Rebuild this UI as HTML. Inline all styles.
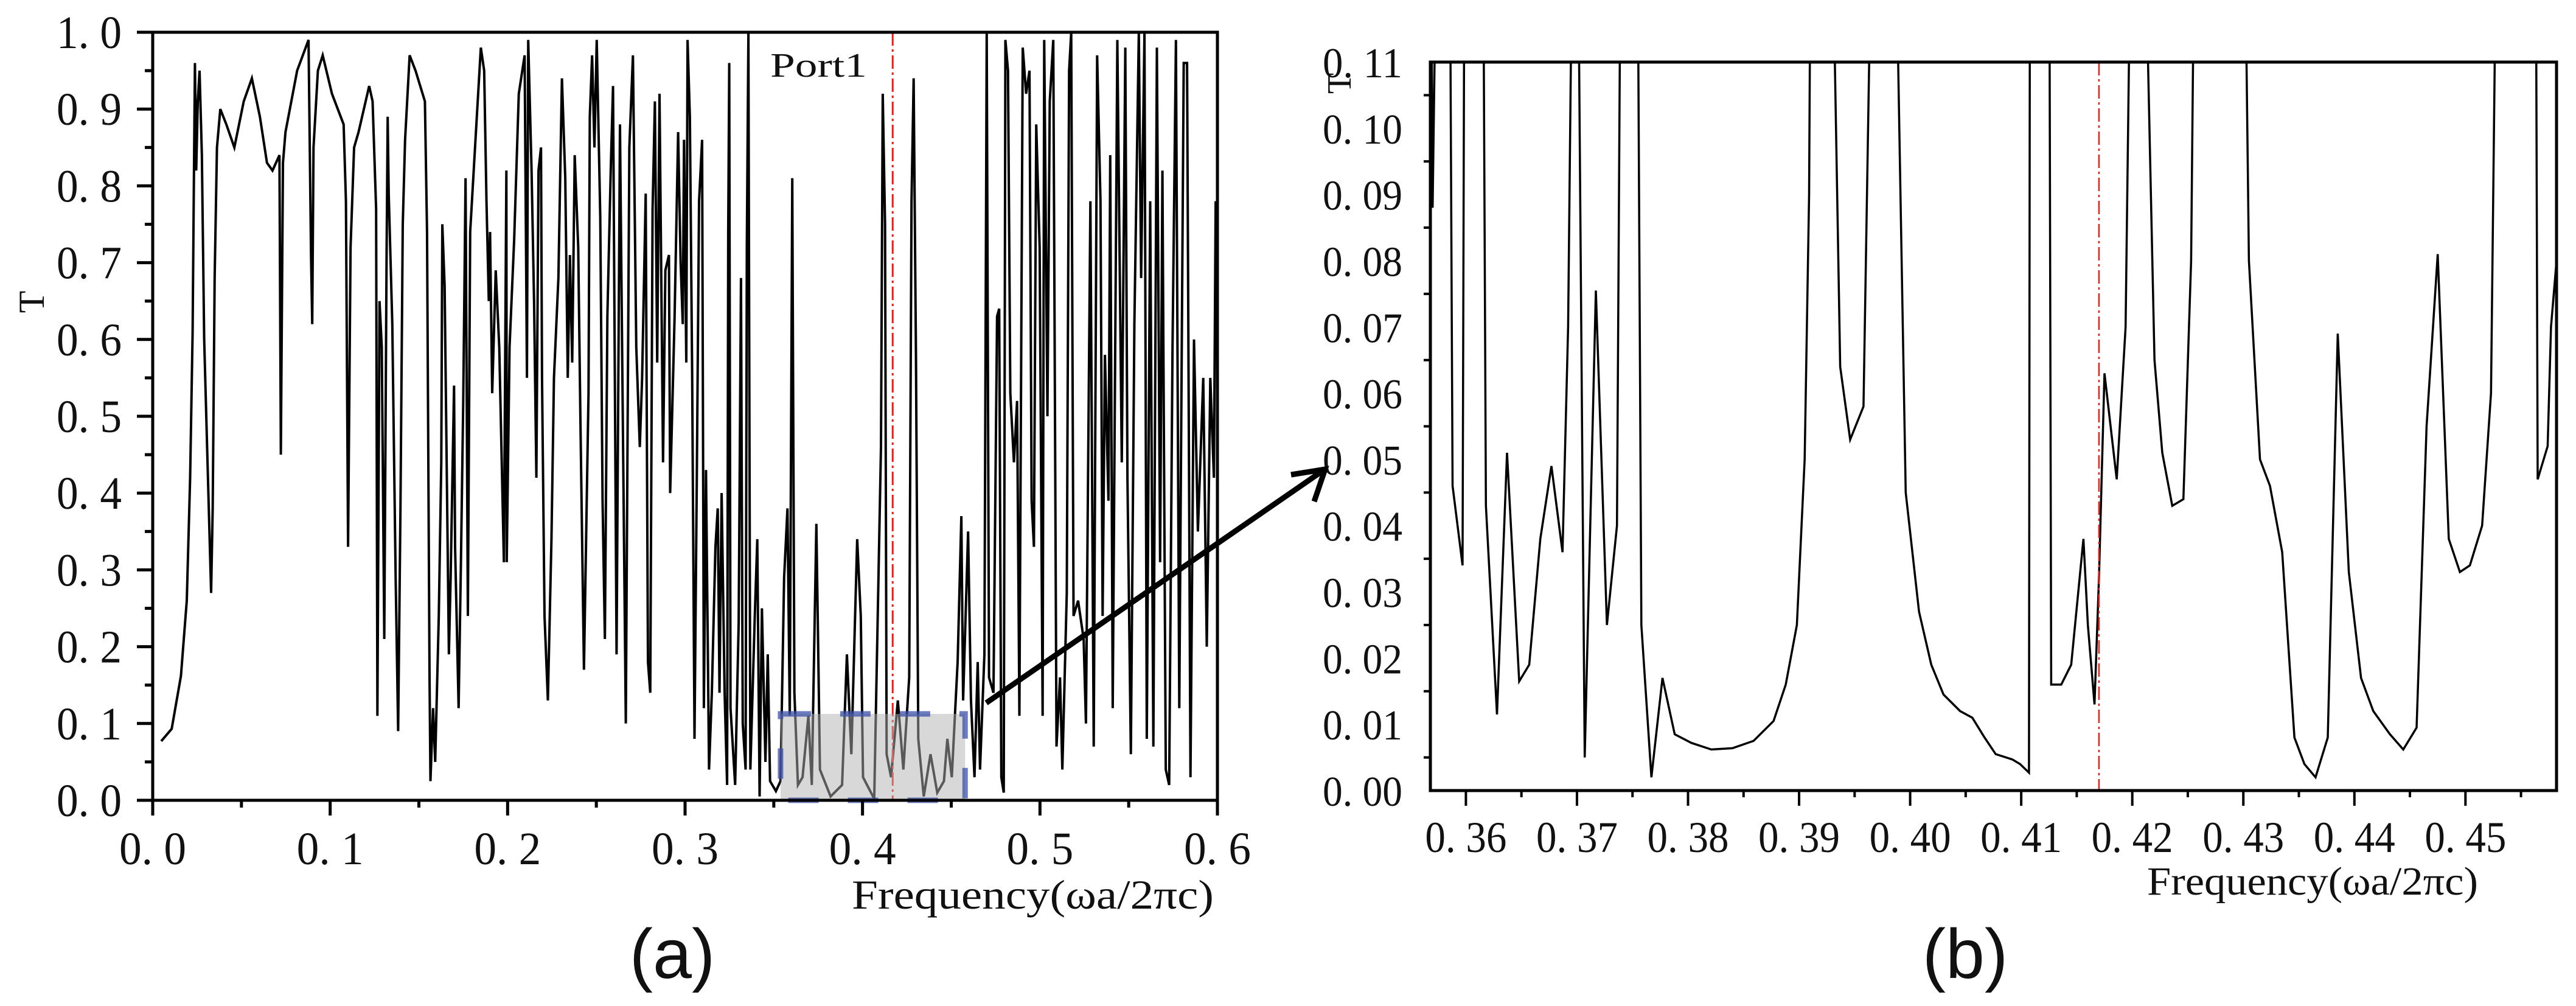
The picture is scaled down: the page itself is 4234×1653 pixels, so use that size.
<!DOCTYPE html>
<html><head><meta charset="utf-8"><style>
html,body{margin:0;padding:0;background:#fff;}
svg{display:block;}
text{font-family:"Liberation Serif","Noto Serif CJK SC",serif;fill:#111;}
</style></head><body>
<svg id="fig" width="4234" height="1653" viewBox="0 0 4234 1653" xmlns="http://www.w3.org/2000/svg">
<defs>
<clipPath id="clipA"><rect x="251" y="53" width="1750" height="1262"/></clipPath>
<clipPath id="clipB"><rect x="2351" y="102" width="1851" height="1197"/></clipPath>
</defs>
<g id="panelA"></g>
<g id="panelB"></g>
<g id="arrow">
<line x1="1621" y1="1155" x2="2172" y2="775" stroke="#000" stroke-width="9"/>
<polyline points="2122,780 2178,771 2160,824" fill="none" stroke="#000" stroke-width="9"/>
</g>
<text x="1105" y="1607" text-anchor="middle" style="font-family:'Liberation Sans',sans-serif;font-size:115px">(a)</text>
<text x="3230" y="1607" text-anchor="middle" style="font-family:'Liberation Sans',sans-serif;font-size:115px">(b)</text>
</svg>
<script>
// ---------- Panel (a) data ----------
const freqA = [0.0048,0.0107,0.0159,0.0192,0.0211,0.0225,0.0231,0.0238,0.0245,0.0254,0.0264,0.0277,0.029,0.0309,0.0329,0.0338,0.0349,0.0362,0.0381,0.0415,0.046,0.0513,0.0559,0.0604,0.0644,0.0675,0.0714,0.0722,0.0734,0.0748,0.0814,0.0878,0.0892,0.0899,0.0906,0.0931,0.0958,0.101,0.1076,0.1089,0.1101,0.1115,0.1135,0.116,0.122,0.1239,0.1259,0.1266,0.1278,0.1291,0.1305,0.1318,0.1324,0.133,0.135,0.1369,0.1383,0.1396,0.1409,0.1422,0.1448,0.1481,0.1534,0.1546,0.156,0.1565,0.158,0.1592,0.1612,0.1626,0.1632,0.1645,0.1658,0.1669,0.1679,0.1698,0.1704,0.1724,0.1737,0.175,0.1763,0.1776,0.1789,0.1809,0.1849,0.1868,0.1881,0.1894,0.1901,0.1913,0.1933,0.1953,0.1966,0.1979,0.1993,0.1995,0.2011,0.2037,0.2063,0.2096,0.2109,0.2116,0.2135,0.2149,0.2162,0.2174,0.2188,0.2194,0.2208,0.2227,0.2247,0.2261,0.2286,0.2306,0.2325,0.2339,0.2351,0.2364,0.2378,0.2398,0.241,0.243,0.2456,0.2463,0.2476,0.2489,0.2502,0.2522,0.2535,0.2548,0.2562,0.2581,0.2594,0.2614,0.2633,0.2647,0.2666,0.2686,0.2706,0.2725,0.2745,0.2758,0.2778,0.2791,0.2804,0.2817,0.283,0.2843,0.2856,0.2876,0.2889,0.2909,0.2916,0.2941,0.2961,0.2975,0.2987,0.2994,0.3007,0.3014,0.3027,0.304,0.3053,0.3066,0.3079,0.3096,0.3106,0.3118,0.3135,0.3151,0.3171,0.3184,0.3194,0.3206,0.3223,0.3237,0.3243,0.3249,0.3256,0.3282,0.3302,0.3315,0.3325,0.3341,0.3348,0.3357,0.3368,0.3393,0.3407,0.342,0.3433,0.3453,0.3466,0.3479,0.3512,0.3538,0.3558,0.3577,0.359,0.3604,0.3616,0.3636,0.3662,0.3695,0.3714,0.374,0.376,0.382,0.3885,0.3912,0.3937,0.397,0.399,0.4003,0.4066,0.4104,0.4114,0.4127,0.4136,0.4161,0.4199,0.423,0.4263,0.4276,0.4288,0.4301,0.4314,0.4345,0.4383,0.4421,0.4459,0.4478,0.4503,0.4536,0.4557,0.4567,0.4595,0.4611,0.4631,0.4649,0.4662,0.4687,0.47,0.4713,0.4738,0.4758,0.477,0.4782,0.4796,0.4805,0.482,0.4833,0.4853,0.4871,0.4884,0.4903,0.4922,0.4941,0.4953,0.4966,0.4979,0.4998,0.5015,0.5024,0.5042,0.5055,0.5075,0.5093,0.5113,0.5126,0.5151,0.5164,0.5176,0.5189,0.5215,0.5246,0.5259,0.5284,0.5303,0.5322,0.5341,0.5353,0.5366,0.5386,0.5396,0.541,0.5436,0.5461,0.5481,0.5493,0.5512,0.5532,0.5557,0.557,0.5589,0.5602,0.5621,0.5639,0.5659,0.5677,0.569,0.5709,0.5728,0.5747,0.5766,0.5785,0.581,0.5829,0.5848,0.5868,0.589,0.592,0.594,0.596,0.598,0.599,0.6];
const transA = [0.077,0.093,0.162,0.26,0.42,0.61,0.78,0.96,0.82,0.91,0.95,0.84,0.60,0.44,0.27,0.38,0.68,0.85,0.90,0.88,0.85,0.91,0.94,0.89,0.83,0.82,0.84,0.45,0.83,0.87,0.95,0.99,0.71,0.62,0.85,0.95,0.97,0.92,0.88,0.78,0.33,0.72,0.85,0.87,0.93,0.91,0.77,0.11,0.65,0.59,0.21,0.71,0.89,0.79,0.62,0.29,0.09,0.38,0.75,0.86,0.97,0.95,0.91,0.74,0.16,0.025,0.12,0.05,0.24,0.44,0.75,0.67,0.41,0.19,0.29,0.54,0.33,0.12,0.31,0.52,0.81,0.24,0.74,0.82,0.98,0.95,0.78,0.65,0.74,0.53,0.69,0.59,0.45,0.31,0.82,0.31,0.59,0.73,0.92,0.97,0.55,0.99,0.82,0.65,0.42,0.82,0.85,0.55,0.24,0.13,0.34,0.55,0.68,0.94,0.81,0.55,0.71,0.57,0.84,0.72,0.50,0.17,0.53,0.89,0.97,0.85,0.99,0.76,0.39,0.21,0.63,0.82,0.93,0.19,0.88,0.55,0.10,0.85,0.97,0.59,0.46,0.55,0.79,0.18,0.14,0.77,0.91,0.57,0.92,0.44,0.69,0.71,0.40,0.63,0.87,0.70,0.62,0.86,0.57,0.99,0.89,0.55,0.08,0.42,0.78,0.86,0.12,0.43,0.04,0.14,0.33,0.38,0.14,0.40,0.14,0.02,0.74,0.96,0.12,0.02,0.23,0.68,0.10,0.04,0.72,1.0,0.04,0.24,0.34,0.005,0.25,0.05,0.19,0.025,0.012,0.025,0.29,0.38,0.11,0.81,0.14,0.02,0.03,0.11,0.02,0.36,0.04,0.005,0.02,0.19,0.06,0.34,0.24,0.03,0.002,0.46,0.92,0.75,0.06,0.03,0.13,0.04,0.16,0.78,0.94,0.58,0.08,0.005,0.06,0.01,0.025,0.08,0.03,0.18,0.37,0.13,0.35,0.13,0.03,0.18,0.04,0.19,1.0,0.16,0.14,0.63,0.64,0.03,0.01,0.99,0.95,0.53,0.44,0.52,0.11,0.98,0.92,0.95,0.39,0.33,0.88,0.72,0.11,0.99,0.50,0.91,0.99,0.07,0.16,0.04,0.27,0.95,1.0,0.24,0.26,0.21,0.10,0.78,0.07,0.97,0.78,0.24,0.58,0.39,0.84,0.12,0.99,0.44,0.98,0.42,0.06,0.62,1.0,0.68,1.0,0.08,0.78,0.07,0.98,0.31,0.82,0.04,0.02,0.59,0.99,0.12,0.96,0.96,0.03,0.60,0.35,0.55,0.20,0.55,0.42,0.78,0.6];
const xTicksA = ["0. 0","0. 1","0. 2","0. 3","0. 4","0. 5","0. 6"];
const yTicksA = ["0. 0","0. 1","0. 2","0. 3","0. 4","0. 5","0. 6","0. 7","0. 8","0. 9","1. 0"];
const portFreq = [0.417];
const zoomBox = [0.3538, 0.4578, 0.0, 0.1125];

// ---------- Panel (b) data ----------
const freqB = [0.3568,0.3570,0.3575,0.3585,0.3588,0.3597,0.3599,0.3615,0.3618,0.3628,0.3637,0.3648,0.3657,0.3667,0.3677,0.3687,0.3692,0.3697,0.37,0.3707,0.3717,0.3727,0.3736,0.374,0.3754,0.3758,0.3767,0.3777,0.3788,0.3803,0.3821,0.384,0.3859,0.3877,0.3888,0.3898,0.3905,0.3909,0.3911,0.3928,0.3937,0.3946,0.3958,0.3967,0.3985,0.3996,0.4008,0.4019,0.403,0.4045,0.4056,0.4067,0.4077,0.4092,0.4099,0.4107,0.4108,0.4125,0.4127,0.4136,0.4145,0.4156,0.416,0.4166,0.417,0.4175,0.4186,0.4194,0.42,0.4209,0.422,0.4227,0.4236,0.4246,0.4253,0.4257,0.43,0.4305,0.4315,0.4324,0.4335,0.4346,0.4355,0.4365,0.4376,0.4385,0.4395,0.4406,0.4417,0.4432,0.4444,0.4456,0.4465,0.4475,0.4485,0.4495,0.4504,0.4515,0.4523,0.4529,0.4563,0.4565,0.4574,0.4577,0.4582];
const transB = [0.15,0.088,0.15,0.15,0.046,0.034,0.15,0.15,0.043,0.0115,0.051,0.0165,0.019,0.038,0.049,0.036,0.07,0.15,0.15,0.005,0.0755,0.025,0.04,0.15,0.15,0.025,0.002,0.017,0.0085,0.0072,0.0062,0.0064,0.0075,0.0105,0.016,0.025,0.05,0.09,0.15,0.15,0.064,0.053,0.058,0.15,0.15,0.045,0.027,0.019,0.0145,0.012,0.011,0.008,0.0055,0.0047,0.004,0.0027,0.15,0.15,0.016,0.016,0.019,0.038,0.025,0.013,0.032,0.063,0.047,0.07,0.15,0.15,0.065,0.051,0.043,0.044,0.08,0.15,0.15,0.08,0.05,0.046,0.036,0.008,0.004,0.002,0.008,0.069,0.033,0.017,0.012,0.0085,0.0062,0.0095,0.055,0.081,0.038,0.033,0.034,0.04,0.06,0.15,0.15,0.047,0.052,0.07,0.08];
const xTicksB = ["0. 36","0. 37","0. 38","0. 39","0. 40","0. 41","0. 42","0. 43","0. 44","0. 45"];
const yTicksB = ["0. 00","0. 01","0. 02","0. 03","0. 04","0. 05","0. 06","0. 07","0. 08","0. 09","0. 10","0. 11"];

const NS = "http://www.w3.org/2000/svg";
function mk(parent, tag, attrs, txt) {
  const e = document.createElementNS(NS, tag);
  for (const k in attrs) e.setAttribute(k, attrs[k]);
  if (txt !== undefined) e.textContent = txt;
  parent.appendChild(e);
  return e;
}

const A = {x0:251, x1:2001, y0:1315, y1:53, fmin:0, fmax:0.6, tmin:0, tmax:1.0};
const B = {x0:2351, x1:4202, y0:1299, y1:102, fmin:0.3568, fmax:0.4582, tmin:0, tmax:0.11};
function sx(ax, f) { return ax.x0 + (f - ax.fmin) / (ax.fmax - ax.fmin) * (ax.x1 - ax.x0); }
function sy(ax, t) { return ax.y0 - (t - ax.tmin) / (ax.tmax - ax.tmin) * (ax.y0 - ax.y1); }

// ---------- draw panel A ----------
const gA = document.getElementById('panelA');
let d = '';
for (let i = 0; i < freqA.length; i++) d += (i ? 'L' : 'M') + sx(A, freqA[i]).toFixed(1) + ',' + sy(A, transA[i]).toFixed(1);
const curveA = mk(gA, 'path', {d: d, fill: 'none', stroke: '#000', 'stroke-width': 4, 'clip-path': 'url(#clipA)'});



const redA = mk(gA, 'line', {x1: sx(A, portFreq[0]), x2: sx(A, portFreq[0]), y1: A.y1, y2: A.y0, stroke: '#e8201a', 'stroke-width': 3, 'stroke-dasharray': '22,6,4,6'});



const bx0 = sx(A, zoomBox[0]), bx1 = sx(A, zoomBox[1]), by0 = sy(A, zoomBox[2]), by1 = sy(A, zoomBox[3]);
const boxFill = mk(gA, 'rect', {x: bx0, y: by1, width: bx1 - bx0, height: by0 - by1, fill: 'rgba(178,178,178,0.5)'});


const boxLine = mk(gA, 'rect', {x: bx0, y: by1, width: bx1 - bx0, height: by0 - by1, fill: 'none', stroke: 'rgba(60,80,170,0.75)', 'stroke-width': 9, 'stroke-dasharray': '50,48'});



const frameA = mk(gA, 'rect', {x: A.x0, y: A.y1, width: A.x1 - A.x0, height: A.y0 - A.y1, fill: 'none', stroke: '#000', 'stroke-width': 5});



for (let i = 0; i <= 12; i++) {
  const f = i * 0.05, x = sx(A, f), major = i % 2 === 0;
  const t = mk(gA, 'line', {x1: x, x2: x, y1: A.y0, y2: A.y0 + (major ? 25 : 12), stroke: '#000', 'stroke-width': 5});
  
  
}
xTicksA.forEach((lab, i) => {
  const t = mk(gA, 'text', {x: sx(A, i * 0.1), y: 1420, 'text-anchor': 'middle', 'font-size': 76, textLength: 110, lengthAdjust: 'spacingAndGlyphs'}, lab);
  
  
});
for (let i = 0; i <= 20; i++) {
  const y = sy(A, i * 0.05), major = i % 2 === 0;
  const t = mk(gA, 'line', {x1: A.x0, x2: A.x0 - (major ? 26 : 13), y1: y, y2: y, stroke: '#000', 'stroke-width': 5});
  
  
}
yTicksA.forEach((lab, i) => {
  const t = mk(gA, 'text', {x: 200, y: sy(A, i * 0.1) + 26, 'text-anchor': 'end', 'font-size': 76, textLength: 107, lengthAdjust: 'spacingAndGlyphs'}, lab);
  
  
});
const ytA = mk(gA, 'text', {x: 52, y: 496, 'text-anchor': 'middle', 'font-size': 60, transform: 'rotate(-90 52 496)', dy: 20}, 'T');


const xtA = mk(gA, 'text', {x: 1400, y: 1493, 'font-size': 68, textLength: 595, lengthAdjust: 'spacingAndGlyphs'}, 'Frequency(ωa/2πc)');


const port = mk(gA, 'text', {x: 1266, y: 126, 'font-size': 56, textLength: 159, lengthAdjust: 'spacingAndGlyphs'}, 'Port1');



// ---------- draw panel B ----------
const gB = document.getElementById('panelB');
let dB = '';
for (let i = 0; i < freqB.length; i++) dB += (i ? 'L' : 'M') + sx(B, freqB[i]).toFixed(1) + ',' + sy(B, transB[i]).toFixed(1);
const curveB = mk(gB, 'path', {d: dB, fill: 'none', stroke: '#000', 'stroke-width': 3.5, 'clip-path': 'url(#clipB)'});


const redB = mk(gB, 'line', {x1: sx(B, portFreq[0]), x2: sx(B, portFreq[0]), y1: B.y1, y2: B.y0, stroke: '#e8201a', 'stroke-width': 2.5, 'stroke-dasharray': '22,6,4,6'});


const frameB = mk(gB, 'rect', {x: B.x0, y: B.y1, width: B.x1 - B.x0, height: B.y0 - B.y1, fill: 'none', stroke: '#000', 'stroke-width': 5});


for (let i = 0; i <= 19; i++) {
  const f = 0.36 + i * 0.005; if (f > B.fmax) break;
  const x = sx(B, f), major = i % 2 === 0;
  const t = mk(gB, 'line', {x1: x, x2: x, y1: B.y0, y2: B.y0 + (major ? 25 : 11), stroke: '#000', 'stroke-width': 4});
  
  
}
xTicksB.forEach((lab, i) => {
  const t = mk(gB, 'text', {x: sx(B, 0.36 + i * 0.01), y: 1400, 'text-anchor': 'middle', 'font-size': 72, textLength: 134, lengthAdjust: 'spacingAndGlyphs'}, lab);
  
  
});
for (let i = 0; i <= 22; i++) {
  const y = sy(B, i * 0.005), major = i % 2 === 0;
  const t = mk(gB, 'line', {x1: B.x0, x2: B.x0 - (major ? 0 : 11), y1: y, y2: y, stroke: '#000', 'stroke-width': 4});
  
  
}
yTicksB.forEach((lab, i) => {
  const t = mk(gB, 'text', {x: 2305, y: sy(B, i * 0.01) + 25, 'text-anchor': 'end', 'font-size': 70, textLength: 131, lengthAdjust: 'spacingAndGlyphs'}, lab);
  
  
});
const ytB = mk(gB, 'text', {x: 2202, y: 137, 'text-anchor': 'middle', 'font-size': 56, transform: 'rotate(-90 2202 137)', dy: 18}, 'T');


const xtB = mk(gB, 'text', {x: 3529, y: 1470, 'font-size': 66, textLength: 544, lengthAdjust: 'spacingAndGlyphs'}, 'Frequency(ωa/2πc)');


</script>
</body></html>
